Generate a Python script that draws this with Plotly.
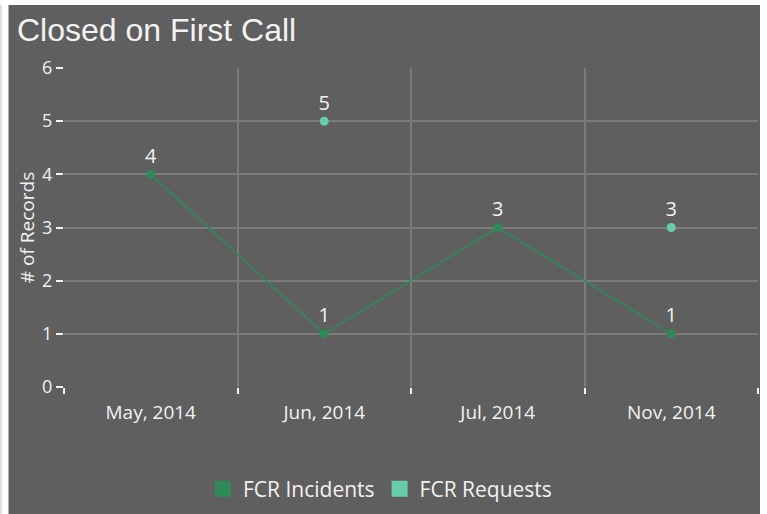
import plotly.graph_objects as go

months = ["May, 2014", "Jun, 2014", "Jul, 2014", "Nov, 2014"]
incidents = [4, 1, 3, 1]
requests = [None, 5, None, 3]
y_ticks = [0, 1, 2, 3, 4, 5, 6]

BG = "#5f5f5f"
GRID = "#7b7b7b"
TXT = "#f2f2f2"
C_INC = "#2e8b57"
C_REQ = "#66cdaa"
FONT = "Open Sans"

W, H = 767, 514
ML, MR, MT, MB = 64, 9, 68, 127
PW, PH = W - ML - MR, H - MT - MB


def px_x(px):
    return (px - ML) / PW


def px_y(py):
    return 1 - (py - MT) / PH


fig = go.Figure()

fig.add_trace(go.Scatter(
    x=months, y=incidents, mode="lines+markers+text",
    line=dict(color=C_INC, width=1.6),
    marker=dict(color=C_INC, size=9),
    text=[str(v) for v in incidents], textposition="top center",
    textfont=dict(color=TXT, size=20, family=FONT),
    showlegend=False, cliponaxis=False,
))
fig.add_trace(go.Scatter(
    x=months, y=requests, mode="markers+text",
    marker=dict(color=C_REQ, size=9),
    text=["" if v is None else str(v) for v in requests], textposition="top center",
    textfont=dict(color=TXT, size=20, family=FONT),
    showlegend=False, cliponaxis=False,
))

# legend entries drawn as squares
for name, col in [("FCR Incidents", C_INC), ("FCR Requests", C_REQ)]:
    fig.add_trace(go.Scatter(
        x=[None], y=[None], mode="markers", name=name,
        marker=dict(color=col, size=16, symbol="square"),
    ))

shapes = [
    # white frame strips around the dark panel
    dict(type="rect", xref="paper", yref="paper",
         x0=px_x(0), x1=px_x(8.5), y0=px_y(H + 2), y1=px_y(-2),
         fillcolor="white", line_width=0, layer="above"),
    dict(type="rect", xref="paper", yref="paper",
         x0=px_x(0), x1=px_x(W + 2), y0=px_y(5), y1=px_y(-2),
         fillcolor="white", line_width=0, layer="above"),
    dict(type="rect", xref="paper", yref="paper",
         x0=px_x(760), x1=px_x(W + 2), y0=px_y(H + 2), y1=px_y(-2),
         fillcolor="white", line_width=0, layer="above"),
    dict(type="line", xref="paper", yref="paper",
         x0=px_x(1), x1=px_x(1), y0=px_y(H + 2), y1=px_y(5),
         line=dict(color="#d6d6d6", width=1.5), layer="above"),
]

fig.update_layout(
    width=W, height=H,
    margin=dict(l=ML, r=MR, t=MT, b=MB, autoexpand=False),
    paper_bgcolor=BG, plot_bgcolor=BG,
    font=dict(family=FONT, color=TXT, size=13),
    title=dict(text="Closed on First Call", x=17 / W,
               xanchor="left", y=1 - 30 / H, yanchor="middle",
               font=dict(family="Liberation Sans", size=32, color=TXT)),
    shapes=shapes,
    legend=dict(orientation="h", x=px_x(380), xanchor="center",
                y=px_y(489), yanchor="middle",
                font=dict(family=FONT, size=21, color=TXT),
                itemwidth=30, tracegroupgap=0, bgcolor="rgba(0,0,0,0)"),
    xaxis=dict(
        type="category", range=[-0.5, 3.5], tickson="boundaries",
        ticks="outside", ticklen=6, tickcolor=TXT, tickwidth=1.5,
        showgrid=True, gridcolor=GRID, gridwidth=1.5,
        zeroline=False, showline=False, ticklabelstandoff=12,
        tickfont=dict(family=FONT, size=19, color=TXT),
    ),
    yaxis=dict(
        range=[0, 6], tickvals=y_ticks, ticks="outside", ticklen=7,
        tickcolor=TXT, tickwidth=1.5,
        showgrid=True, gridcolor=GRID, gridwidth=1.5,
        zeroline=False, showline=False,
        tickfont=dict(family=FONT, size=18, color=TXT),
        title=dict(text="# of Records", standoff=2,
                   font=dict(family=FONT, size=19, color=TXT)),
    ),
)

fig.write_html("out.html")
